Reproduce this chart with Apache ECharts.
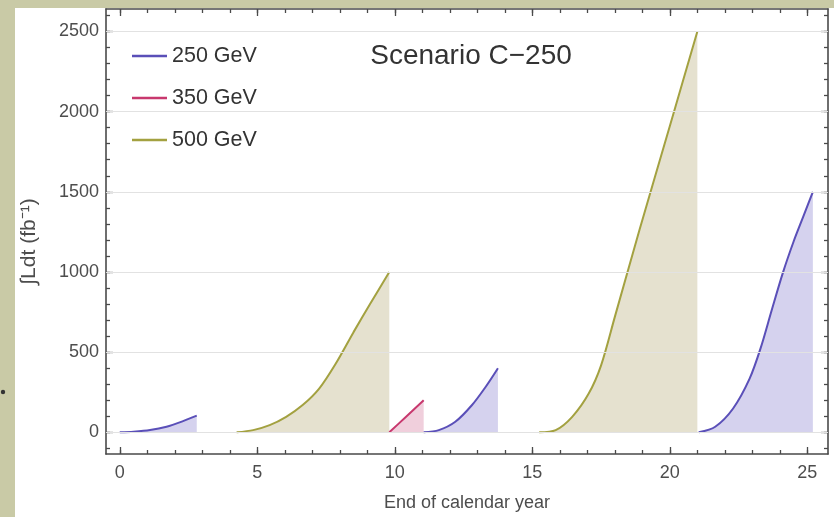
<!DOCTYPE html>
<html>
<head>
<meta charset="utf-8">
<script src="https://cdn.jsdelivr.net/npm/echarts@6/dist/echarts.min.js"></script>
<style>
html,body{margin:0;padding:0;background:#c9caa6;}
#c{width:834px;height:517px;}
</style>
</head>
<body>
<div id="c"></div>
<script>
// ---- data ----
const seriesNames = ['250 GeV', '350 GeV', '500 GeV'];
const run250a = [[0,0],[0.5,4],[1.1,14],[1.7,35],[2.3,70],[2.8,104]];
const run500a = [[4.25,0],[4.85,14],[5.45,45],[6.05,97],[6.65,170],[7.25,273],[7.85,428],[8.5,625],[9.1,800],[9.8,1000]];
const run350a = [[9.8,0],[10.4,96],[11.05,200]];
const run250b = [[11.05,0],[11.6,14],[12.2,66],[12.8,169],[13.3,283],[13.75,400]];
const run500b = [[15.25,0],[15.85,14],[16.45,97],[17.05,242],[17.5,418],[18.0,720],[18.9,1265],[20.0,1910],[21.0,2500]];
const run250c = [[21.05,0],[21.65,35],[22.3,149],[22.9,335],[23.3,525],[23.7,760],[24.1,990],[24.5,1190],[24.85,1345],[25.2,1500]];
const xMajorTicks = [0,5,10,15,20,25];
const xMinorTicks = [0,1,2,3,4,5,6,7,8,9,10,11,12,13,14,15,16,17,18,19,20,21,22,23,24,25];
const yMajorTicks = [0,500,1000,1500,2000,2500];
const yMinorTicks = [-100,0,100,200,300,400,500,600,700,800,900,1000,1100,1200,1300,1400,1500,1600,1700,1800,1900,2000,2100,2200,2300,2400,2500,2600];
const gridValues = [0,500,1000,1500,2000,2500];
const titleText = 'Scenario C\u2212250';
const xName = 'End of calendar year';
const yName = '\u222BLdt (fb\u207B\u00B9)';

// ---- styling ----
const FONT = 'Liberation Sans, Arial, Helvetica, sans-serif';
const colors = { '250 GeV': '#5a4fb8', '350 GeV': '#c8386e', '500 GeV': '#a3a140' };
const fills = { '250 GeV': 'rgba(112,102,197,0.42)', '350 GeV': 'rgba(205,92,137,0.42)', '500 GeV': 'rgba(168,154,92,0.42)' };
const FRAME = '#4a4a4a';
const XMIN = -0.5, XMAX = 25.75, YMIN = -135, YMAX = 2640;

function xAx(pos, major, withLabel) {
  return {
    type: 'value', position: pos, min: XMIN, max: XMAX, gridIndex: 0,
    axisLine: { show: major, onZero: false, lineStyle: { color: FRAME, width: 1.6 } },
    axisTick: { show: true, inside: true, length: major ? 7 : 4, customValues: major ? xMajorTicks : xMinorTicks, lineStyle: { color: FRAME, width: 1.3 } },
    axisLabel: withLabel ? { show: true, customValues: xMajorTicks, formatter: v => String(v), color: '#4d4d4d', fontSize: 18, fontFamily: FONT, margin: 10 } : { show: false },
    splitLine: { show: false }, minorTick: { show: false },
    name: withLabel ? xName : '', nameLocation: 'middle', nameGap: 40,
    nameTextStyle: { color: '#4d4d4d', fontSize: 18, fontFamily: FONT }
  };
}
function yAx(pos, major, withLabel) {
  return {
    type: 'value', position: pos, min: YMIN, max: YMAX, gridIndex: 0,
    axisLine: { show: major, onZero: false, lineStyle: { color: FRAME, width: 1.6 } },
    axisTick: { show: true, inside: true, length: major ? 7 : 4, customValues: major ? yMajorTicks : yMinorTicks, lineStyle: { color: FRAME, width: 1.3 } },
    axisLabel: withLabel ? { show: true, customValues: yMajorTicks, formatter: v => String(v), color: '#4d4d4d', fontSize: 18, fontFamily: FONT, margin: 7 } : { show: false },
    splitLine: { show: false }, minorTick: { show: false },
    name: withLabel ? yName : '', nameLocation: 'middle', nameGap: 66, nameRotate: 90,
    nameTextStyle: { color: '#4d4d4d', fontSize: 21, fontFamily: FONT, padding: [0, 20, 0, 0] }
  };
}

function seg(name, data) {
  return {
    name: name, type: 'line', data: data, xAxisIndex: 0, yAxisIndex: 0,
    smooth: 0.3, showSymbol: false, symbol: 'none', z: 3,
    color: colors[name],
    lineStyle: { color: colors[name], width: 2 },
    itemStyle: { color: colors[name] },
    areaStyle: { color: fills[name], origin: 0 },
    silent: true, animation: false
  };
}

const chart = echarts.init(document.getElementById('c'), null, { renderer: 'canvas' });
chart.setOption({
  animation: false,
  backgroundColor: '#c9caa6',
  graphic: [
    { type: 'rect', shape: { x: 15, y: 8, width: 830, height: 520 }, style: { fill: '#ffffff' }, z: -10, silent: true },
    { type: 'circle', shape: { cx: 3, cy: 392, r: 2.2 }, style: { fill: '#333' }, z: -5, silent: true }
  ],
  title: {
    text: titleText, left: 466, top: 37, textAlign: 'center',
    textStyle: { fontSize: 28, fontWeight: 'normal', color: '#333', fontFamily: FONT }
  },
  legend: {
    data: seriesNames, orient: 'vertical', left: 127, top: 40,
    icon: 'rect', itemWidth: 35, itemHeight: 2.5, itemGap: 20,
    textStyle: { fontSize: 21.5, color: '#333', fontFamily: FONT, lineHeight: 22, padding: [0, 0, 0, 0] },
    selectedMode: false
  },
  grid: { left: 106, right: 6, top: 9, bottom: 61, containLabel: false },
  xAxis: [ xAx('bottom', true, true), xAx('bottom', false, false), xAx('top', true, false), xAx('top', false, false) ],
  yAxis: [ yAx('left', true, true), yAx('left', false, false), yAx('right', true, false), yAx('right', false, false) ],
  series: [
    {
      type: 'line', data: [], xAxisIndex: 0, yAxisIndex: 0, z: 1, silent: true,
      markLine: {
        silent: true, symbol: ['none', 'none'], label: { show: false },
        lineStyle: { color: '#e2e2e2', width: 1, type: 'solid' },
        data: gridValues.map(v => ({ yAxis: v }))
      }
    },
    seg('250 GeV', run250a),
    seg('500 GeV', run500a),
    seg('350 GeV', run350a),
    seg('250 GeV', run250b),
    seg('500 GeV', run500b),
    seg('250 GeV', run250c)
  ]
});
</script>
</body>
</html>
